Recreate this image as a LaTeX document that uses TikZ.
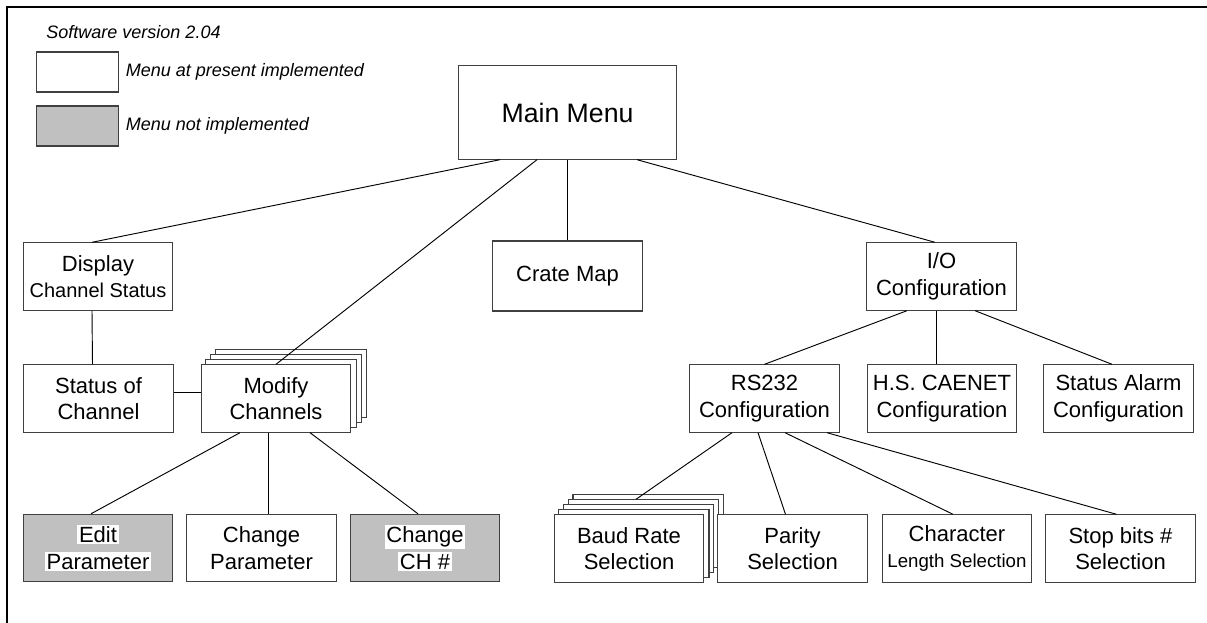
\documentclass[tikz,border=0pt]{standalone}
\usepackage{fontspec}
\setmainfont{Liberation Sans}
\usetikzlibrary{positioning,backgrounds}
\definecolor{notimpl}{RGB}{192,192,192}
\definecolor{boxline}{RGB}{64,64,64}
\newcommand{\hl}[1]{{\setlength{\fboxsep}{1.2pt}\colorbox{white}{#1}}}
\begin{document}
\begin{tikzpicture}[x=0.75pt,y=-0.75pt,line width=0.7pt,
  menu/.style={draw=boxline,fill=white,line width=0.8pt,minimum width=112pt,minimum height=50.5pt,inner sep=0pt,align=center,font=\fontsize{16.5}{20}\selectfont},
  grey/.style={menu,fill=notimpl},
  legend/.style={inner sep=0pt,font=\fontsize{13.5}{16}\selectfont\itshape}]
\useasboundingbox (0,0) rectangle (1207,623);
\draw[line width=2.2pt] (1207,7)--(7,7)--(7,623);

\node[legend,anchor=west] (version) at (46,32) {Software version 2.04};
\node[menu,minimum width=61pt,minimum height=30pt] (leg1) at (77.5,72) {};
\node[grey,minimum width=61pt,minimum height=30pt] (leg2) at (77.5,126) {};
\node[legend,right=5pt of leg1] (impl) {Menu at present implemented};
\node[legend,right=5pt of leg2] (notimp) {Menu not implemented};

\node[menu,minimum width=164pt,minimum height=70pt,font=\fontsize{20}{24}\selectfont] (main) at (567.5,112.5) {Main Menu};
\node[menu] (disp) at (98,276.5) {Display\\{\fontsize{15}{18}\selectfont Channel Status}};
\node[menu,minimum height=52.5pt] (crate) at (567.5,276) {Crate Map};
\node[menu] (io) at (941.5,276.5) {I/O\\Configuration};
\node[menu] (stat) at (98.5,398.5) {Status of\\Channel};
\node[menu] (mod) at (276,398.5) {Modify\\Channels};
\node[menu] (rs) at (764.5,398.5) {RS232\\Configuration};
\node[menu] (hs) at (942,398.5) {H.S. CAENET\\Configuration};
\node[menu] (alarm) at (1118.5,398.5) {Status Alarm\\Configuration};
\node[grey] (edit) at (98,548) {\hl{Edit}\\\hl{Parameter}};
\node[menu] (chpar) at (261.5,548) {Change\\Parameter};
\node[grey] (chch) at (425,548) {\hl{Change}\\\hl{CH \#}};
\node[menu] (baud) at (629,548.5) {Baud Rate\\Selection};
\node[menu] (par) at (792.5,548.5) {Parity\\Selection};
\node[menu] (char) at (957,548.5) {Character\\{\fontsize{14}{17}\selectfont Length Selection}};
\node[menu] (stop) at (1120.5,548.5) {Stop bits \#\\Selection};

\begin{scope}[on background layer]
\foreach \k in {3,2,1}
  \draw[draw=boxline,fill=white,line width=0.8pt] ([shift={(5*\k,-5*\k)}]mod.south west) rectangle ([shift={(5*\k,-5*\k)}]mod.north east);
\foreach \k in {4,3,2,1}
  \draw[draw=boxline,fill=white,line width=0.8pt] ([shift={(4.8*\k,-5*\k)}]baud.south west) rectangle ([shift={(4.8*\k,-5*\k)}]baud.north east);
\end{scope}

\draw ([shift={(-67.5,0)}]main.south) -- ([shift={(-6,0)}]disp.north);
\draw ([shift={(-30.5,0)}]main.south) -- (mod.north);
\draw (main.south) -- (crate.north);
\draw ([shift={(69.5,0)}]main.south) -- ([shift={(-6.5,0)}]io.north);
\draw ([shift={(-6,0)}]disp.south) -- ([shift={(-6,0)}]stat.north);
\draw ([shift={(0,-6)}]stat.east) -- ([shift={(0,-6)}]mod.west);
\draw ([shift={(-36,0)}]mod.south) -- ([shift={(-7,0)}]edit.north);
\draw ([shift={(-8,0)}]mod.south) -- ([shift={(6.5,0)}]chpar.north);
\draw ([shift={(34,0)}]mod.south) -- ([shift={(-7,0)}]chch.north);
\draw ([shift={(-34.5,0)}]io.south) -- (rs.north);
\draw ([shift={(-5.5,0)}]io.south) -- ([shift={(-6,0)}]hs.north);
\draw ([shift={(33.5,0)}]io.south) -- ([shift={(-6.5,0)}]alarm.north);
\draw ([shift={(-32.5,0)}]rs.south) -- ([shift={(7,-15)}]baud.north);
\draw ([shift={(-6.5,0)}]rs.south) -- ([shift={(-7,0)}]par.north);
\draw ([shift={(20.5,0)}]rs.south) -- ([shift={(-4,0)}]char.north);
\draw ([shift={(62.5,0)}]rs.south) -- ([shift={(-4,0)}]stop.north);
\end{tikzpicture}
\end{document}
